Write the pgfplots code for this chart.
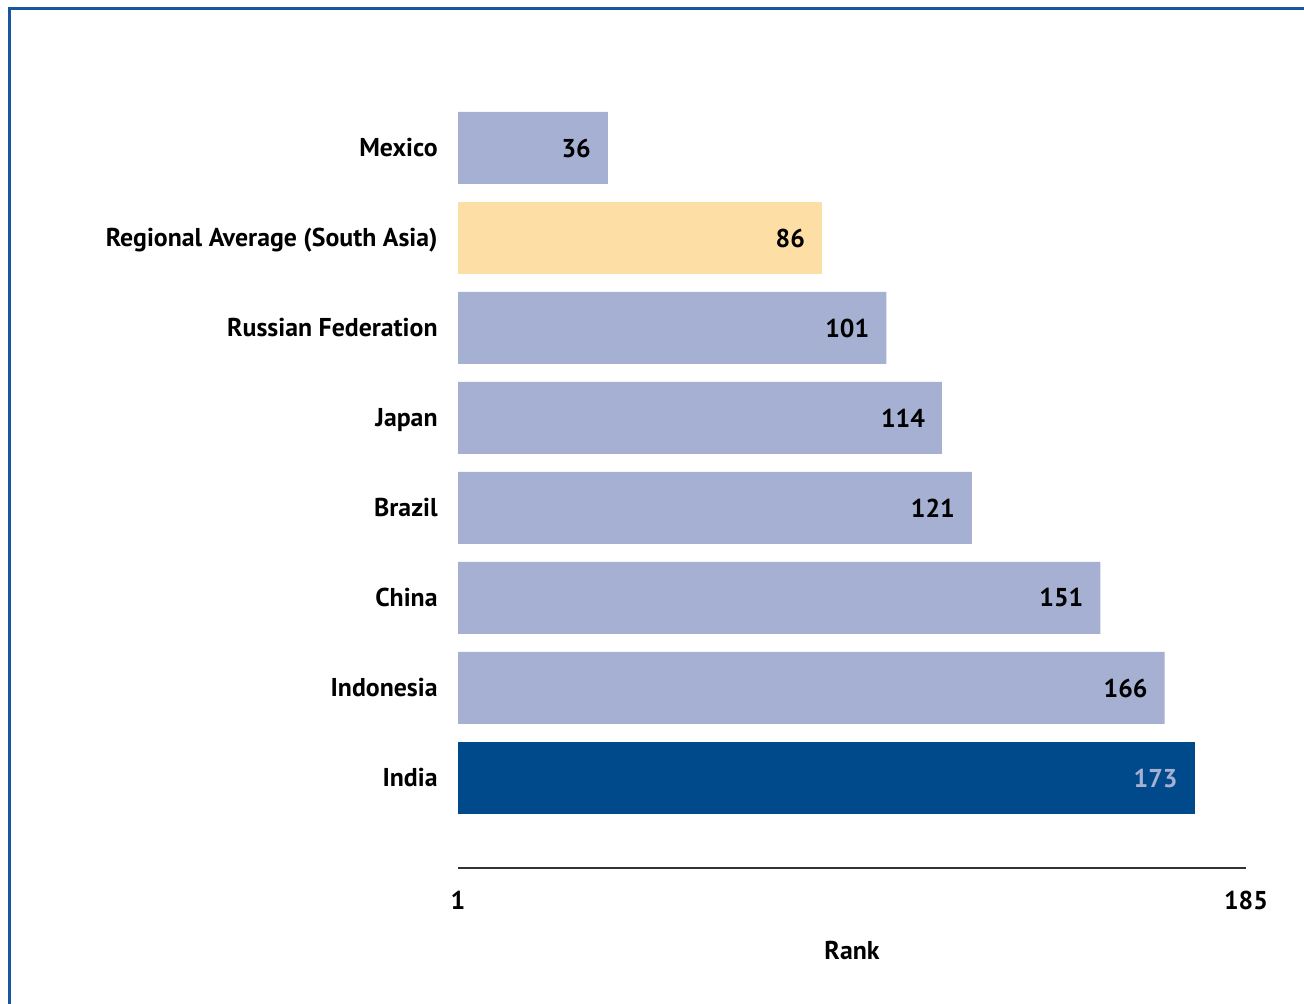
\documentclass[border=0pt]{standalone}
\usepackage{fontspec}
\setmainfont{PT Sans}
\usepackage{pgfplots}
\pgfplotsset{compat=1.18}
\definecolor{barblue}{HTML}{A5B0D3}
\definecolor{baryellow}{HTML}{FDDFA6}
\definecolor{bardark}{HTML}{004A8C}
\definecolor{frameblue}{HTML}{1A55A0}
\newcommand{\lbl}{\bfseries\fontsize{12.9bp}{15bp}\selectfont}

\begin{document}
\begin{tikzpicture}
\useasboundingbox (0,0) rectangle (652bp,502bp);
% frame, cut off at right and bottom like the original
\draw[frameblue, line width=1.5bp] (4.5bp,0) -- (4.5bp,497.5bp) -- (652bp,497.5bp);
\begin{axis}[
  at={(229bp,68bp)}, anchor=south west,
  x=2.1413bp, y=45bp,
  xmin=1, xmax=185, ymin=-1, ymax=8,
  xbar, bar width=36bp, bar shift=0pt,
  axis lines*=left,
  axis line style={-, draw=black!80, line width=1bp},
  y axis line style={draw=none},
  major tick length=0pt,
  /pgf/number format/assume math mode=true,
  xtick={1,185},
  ytick={0,...,7},
  yticklabels={India,Indonesia,China,Brazil,Japan,Russian Federation,Regional Average (South Asia),Mexico},
  yticklabel style={anchor=base east, inner sep=0pt, xshift=-10bp, yshift=-4.5bp, font=\lbl},
  xticklabel style={anchor=center, yshift=-16bp, font=\lbl},
  every axis x label/.style={at={(axis description cs:0.5,0)}, anchor=center, yshift=-41bp, font=\lbl},
  xlabel={Rank},
  nodes near coords,
  every node near coord/.append style={anchor=east, xshift=-5bp, font=\lbl, text=black},
]
\addplot[fill=barblue, draw=none] coordinates {(36,7) (101,5) (114,4) (121,3) (151,2) (166,1)};
\addplot[fill=baryellow, draw=none] coordinates {(86,6)};
\addplot[fill=bardark, draw=none, every node near coord/.append style={text=barblue}] coordinates {(173,0)};
\end{axis}
\end{tikzpicture}
\end{document}
